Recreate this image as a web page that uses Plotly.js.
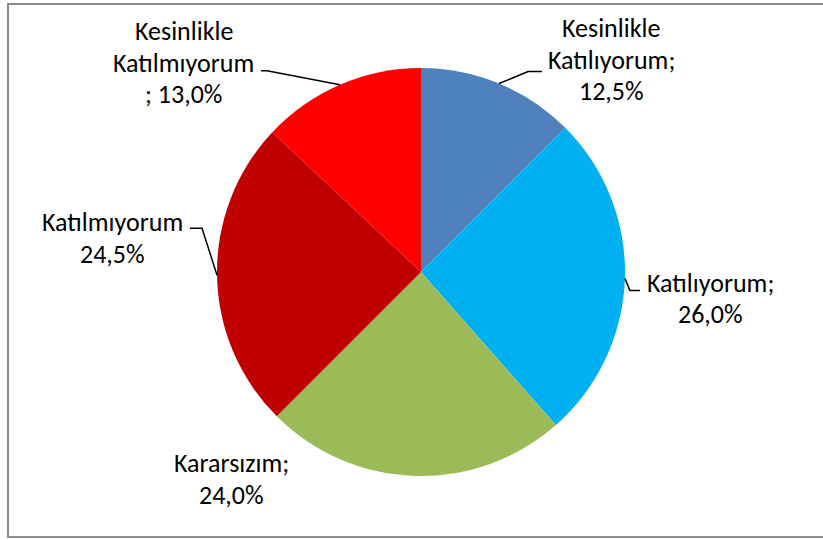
<!DOCTYPE html>
<html>
<head>
<meta charset="utf-8">
<script src="https://cdn.plot.ly/plotly-3.0.1.min.js"></script>
<style>html,body{margin:0;padding:0;background:#fff;}#chart{width:823px;height:540px;}</style>
</head>
<body>
<div id="chart"></div>
<script>
// ---- data ----
const categories = ["Kesinlikle Katılıyorum", "Katılıyorum", "Kararsızım", "Katılmıyorum", "Kesinlikle Katılmıyorum"];
const values = [12.5, 26.0, 24.0, 24.5, 13.0];
const labelLines = [
  ["Kesinlikle", "Katılıyorum;", "12,5%"],
  ["Katılıyorum;", "26,0%"],
  ["Kararsızım;", "24,0%"],
  ["Katılmıyorum", "24,5%"],
  ["Kesinlikle", "Katılmıyorum", "; 13,0%"]
];
const colors = ["#4F81BD", "#00B0F0", "#9BBB59", "#C00000", "#FF0000"];

// ---- layout geometry (pixels) ----
const W = 823, H = 540;
const CX = 421, CY = 272, R = 204;
const FONT_SIZE = 26, LINE_GAP = 31.5;
// label placement relative to the slice edge point: [elbowdx, elbowdy, enddx, enddy, textdx, textdy, showLine]
const labelPlace = [
  [29, -12, 43, -12, 112, -24, true],
  [5, 12, 15, 12, 86, 20, true],
  [0, 0, 0, 0, -183, 3, false],
  [-15, -47, -27, -47, -105, -37, true],
  [-73, -14, -79, -14, -156, -22, true]
];

const px = x => x / W;
const py = y => 1 - y / H;

const total = values.reduce((a, b) => a + b, 0);
let cum = 0;
const annotations = [];
const shapes = [];
values.forEach((v, i) => {
  const mid = (cum + v / 2) / total * 2 * Math.PI;
  cum += v;
  const ex = CX + R * Math.sin(mid);
  const ey = CY - R * Math.cos(mid);
  const p = labelPlace[i];
  if (p[6]) {
    shapes.push({
      type: "path", xref: "paper", yref: "paper",
      path: `M ${px(ex)} ${py(ey)} L ${px(ex + p[0])} ${py(ey + p[1])} L ${px(ex + p[2])} ${py(ey + p[3])}`,
      line: {color: "#000", width: 1.5}
    });
  }
  const lines = labelLines[i];
  const n = lines.length;
  lines.forEach((t, k) => {
    annotations.push({
      xref: "paper", yref: "paper",
      x: px(ex + p[4]), y: py(ey + p[5] + (k - (n - 1) / 2) * LINE_GAP),
      xanchor: "center", yanchor: "middle", align: "center",
      text: t, showarrow: false,
      font: {family: "Carlito, Calibri, Lato, sans-serif", size: FONT_SIZE, color: "#000"}
    });
  });
});

// frame
shapes.push({
  type: "rect", xref: "paper", yref: "paper",
  x0: px(8), x1: px(830), y0: py(537), y1: py(4),
  line: {color: "#8c8c8c", width: 2}
});

const trace = {
  type: "pie",
  labels: categories,
  values: values,
  marker: {colors: colors, line: {width: 0}},
  sort: false,
  direction: "clockwise",
  rotation: 0,
  textinfo: "none",
  hoverinfo: "label+percent",
  domain: {x: [px(CX - R), px(CX + R)], y: [py(CY + R), py(CY - R)]}
};

Plotly.newPlot("chart", [trace], {
  width: W, height: H,
  margin: {l: 0, r: 0, t: 0, b: 0},
  showlegend: false,
  paper_bgcolor: "#fff",
  annotations: annotations,
  shapes: shapes
}, {displayModeBar: false, staticPlot: true});
</script>
</body>
</html>
